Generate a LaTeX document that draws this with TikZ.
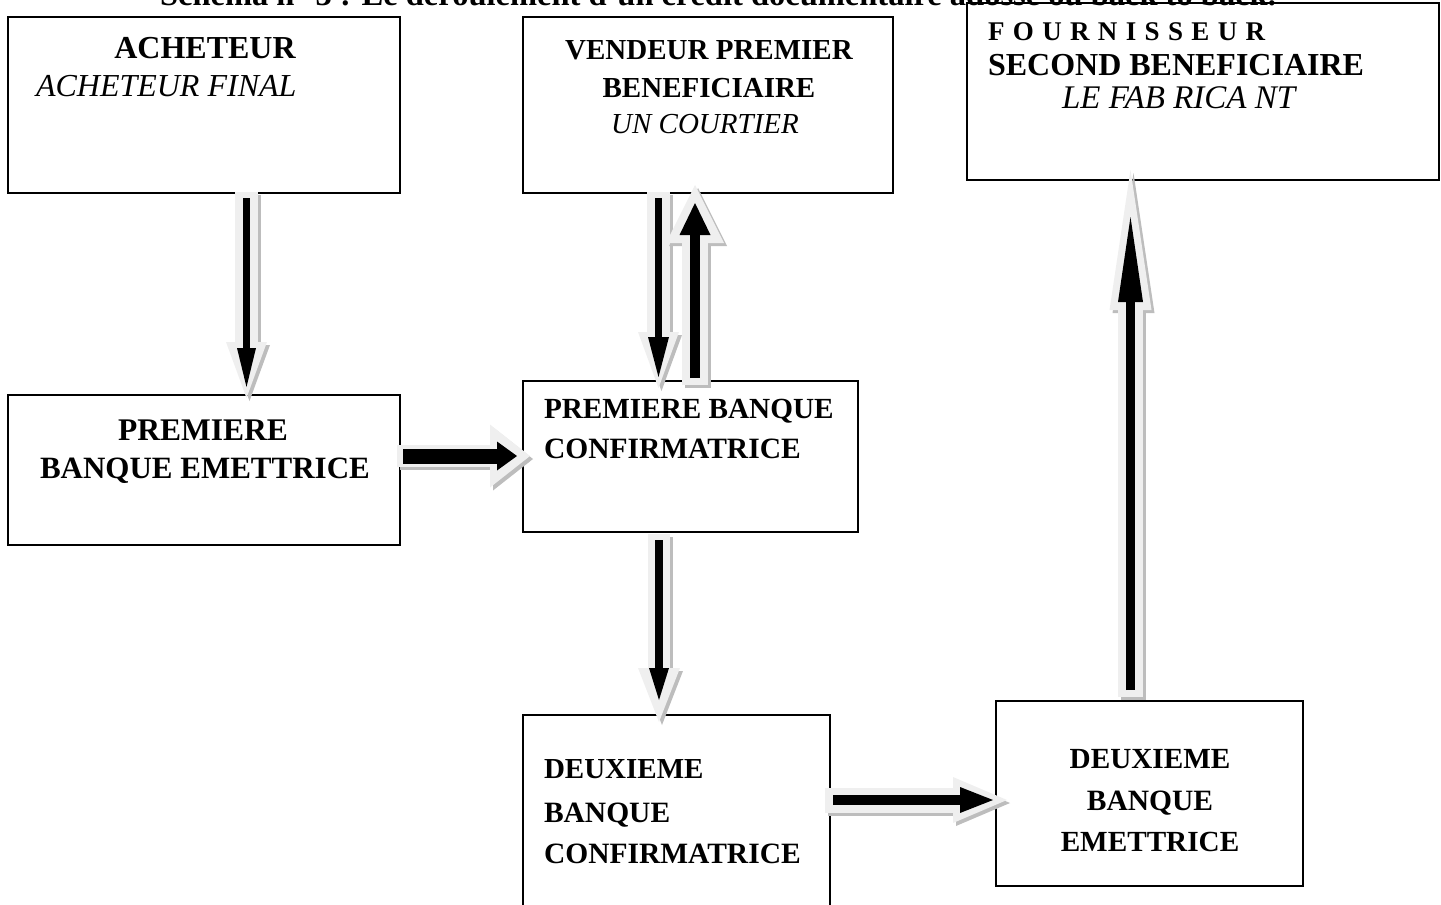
\documentclass[tikz,border=0pt]{standalone}
\usepackage{fontspec}
\setmainfont{Liberation Serif}
\usetikzlibrary{arrows.meta}
\definecolor{bodygray}{HTML}{EFEFEF}
\definecolor{shadowgray}{HTML}{BDBDBD}

\tikzset{
  box/.style={draw, line width=1.5pt, inner sep=0pt, outer sep=0pt, anchor=north west, fill=white},
  lbl/.style={inner sep=0pt, outer sep=0pt, font=\fontsize{29.5}{36}\selectfont\bfseries},
  ilbl/.style={inner sep=0pt, outer sep=0pt, font=\fontsize{29.5}{36}\selectfont\itshape},
  big/.style={font=\fontsize{#1}{36}\selectfont\bfseries},
  ibig/.style={font=\fontsize{#1}{36}\selectfont\itshape},
  % light body of a block arrow
  arrbody/.style n args={3}{draw=bodygray, line width=#1,
    -{Triangle[width=#2, length=#3, line width=0pt]}},
  % its drop shadow, down and to the right
  arrshadow/.style n args={3}{arrbody={#1}{#2}{#3}, draw=shadowgray,
    transform canvas={xshift=3pt, yshift=-3pt}},
  % black core arrow
  arrcore/.style n args={3}{draw=black, line width=#1,
    -{Triangle[width=#2, length=#3, line width=0pt]}},
}

\begin{document}
\begin{tikzpicture}[x=1pt, y=-1pt]
\useasboundingbox (0,0) rectangle (1441,905);
\clip (0,0) rectangle (1441,905);

% boxes
\node[box, minimum width=392pt, minimum height=176pt] (ach)  at (8,17) {};
\node[box, minimum width=370pt, minimum height=176pt] (ven)  at (523,17) {};
\node[box, minimum width=472pt, minimum height=177pt] (four) at (967,3) {};
\node[box, minimum width=392pt, minimum height=150pt] (pbe)  at (8,395) {};
\node[box, minimum width=335pt, minimum height=151pt] (pbc)  at (523,381) {};
\node[box, minimum width=307pt, minimum height=200pt] (dbc)  at (523,715) {};
\node[box, minimum width=307pt, minimum height=185pt] (dbe)  at (996,701) {};

% heading (partly cut by the top edge)
\node[lbl, big=32.5, anchor=base west] (title) at (160,5)
  {Schéma n° 3 : Le déroulement d'un crédit documentaire adossé ou back to back.};

% box texts
\node[lbl, big=32, anchor=base]        (t1)  at (205,58)  {ACHETEUR};
\node[ilbl, ibig=32, anchor=base west] (t2)  at (36,96)   {ACHETEUR FINAL};
\node[lbl, big=29, anchor=base]        (t3)  at (709,59)  {VENDEUR PREMIER};
\node[lbl, big=29, anchor=base]        (t4)  at (709,97)  {BENEFICIAIRE};
\node[ilbl, ibig=29, anchor=base]      (t5)  at (705,133) {UN COURTIER};
\node[lbl, anchor=base west, font=\fontsize{27}{32}\selectfont\bfseries\addfontfeature{LetterSpace=31}]
                                       (t6)  at (988,40)  {FOURNISSEUR};
\node[lbl, big=32, anchor=base west]   (t7)  at (988,75)  {SECOND BENEFICIAIRE};
\node[ilbl, ibig=33, anchor=base west] (t8)  at (1062,108) {LE FAB RICA NT};
\node[lbl, big=31.5, anchor=base]      (t9)  at (203,440) {PREMIERE};
\node[lbl, big=31, anchor=base west]   (t10) at (40,478)  {BANQUE EMETTRICE};
\node[lbl, big=29.2, anchor=base west] (t11) at (544,418) {PREMIERE BANQUE};
\node[lbl, anchor=base west]           (t12) at (544,458) {CONFIRMATRICE};
\node[lbl, big=29, anchor=base west]   (t13) at (544,778) {DEUXIEME};
\node[lbl, anchor=base west]           (t14) at (544,822) {BANQUE};
\node[lbl, anchor=base west]           (t15) at (544,863) {CONFIRMATRICE};
\node[lbl, big=29.2, anchor=base]      (t16) at (1150,768) {DEUXIEME};
\node[lbl, anchor=base]                (t17) at (1150,810) {BANQUE};
\node[lbl, big=29.2, anchor=base]      (t18) at (1150,851) {EMETTRICE};

% guide lines for the arrows
\coordinate (xa) at (246.5,0);
\coordinate (xb) at (658.5,0);
\coordinate (xc) at (695,0);
\coordinate (xd) at (659,0);
\coordinate (xe) at (1130.5,0);
\coordinate (ya) at (0,456);
\coordinate (yb) at (0,800);

% acheteur -> premiere banque emettrice
\draw[arrshadow={23pt}{41pt}{56pt}, shorten <=-1pt, shorten >=-3pt] (xa |- ach.south) -- (xa |- pbe.north);
\draw[arrbody={23pt}{41pt}{56pt},   shorten <=-1pt, shorten >=-3pt] (xa |- ach.south) -- (xa |- pbe.north);
\draw[arrcore={7pt}{19pt}{39pt},    shorten <=5pt,  shorten >=8pt]  (xa |- ach.south) -- (xa |- pbe.north);

% vendeur -> premiere banque confirmatrice
\draw[arrshadow={23pt}{41pt}{56pt}, shorten <=-1pt, shorten >=-7pt] (xb |- ven.south) -- (xb |- pbc.north);
\draw[arrbody={23pt}{41pt}{56pt},   shorten <=-1pt, shorten >=-7pt] (xb |- ven.south) -- (xb |- pbc.north);
\draw[arrcore={7pt}{21pt}{40pt},    shorten <=5pt,  shorten >=4pt]  (xb |- ven.south) -- (xb |- pbc.north);

% premiere banque confirmatrice -> vendeur
\draw[arrshadow={26pt}{58pt}{58pt}, shorten <=-4pt, shorten >=-8pt] (xc |- pbc.north) -- (xc |- ven.south);
\draw[arrbody={26pt}{58pt}{58pt},   shorten <=-4pt, shorten >=-8pt] (xc |- pbc.north) -- (xc |- ven.south);
\draw[arrcore={10pt}{31pt}{32pt},   shorten <=3pt,  shorten >=10pt] (xc |- pbc.north) -- (xc |- ven.south);

% premiere banque emettrice -> premiere banque confirmatrice
\draw[arrshadow={22pt}{63pt}{40pt}, shorten <=-3pt, shorten >=-7pt] (pbe.east |- ya) -- (pbc.west |- ya);
\draw[arrbody={22pt}{63pt}{40pt},   shorten <=-3pt, shorten >=-7pt] (pbe.east |- ya) -- (pbc.west |- ya);
\draw[arrcore={15pt}{29pt}{20pt},   shorten <=3pt,  shorten >=6pt]  (pbe.east |- ya) -- (pbc.west |- ya);

% premiere banque confirmatrice -> deuxieme banque confirmatrice
\draw[arrshadow={22pt}{42pt}{54pt}, shorten <=2pt,  shorten >=-7pt] (xd |- pbc.south) -- (xd |- dbc.north);
\draw[arrbody={22pt}{42pt}{54pt},   shorten <=2pt,  shorten >=-7pt] (xd |- pbc.south) -- (xd |- dbc.north);
\draw[arrcore={8pt}{20pt}{32pt},    shorten <=8pt,  shorten >=15pt] (xd |- pbc.south) -- (xd |- dbc.north);

% deuxieme banque confirmatrice -> deuxieme banque emettrice
\draw[arrshadow={25pt}{46pt}{54pt}, shorten <=-5pt, shorten >=-11pt] (dbc.east |- yb) -- (dbe.west |- yb);
\draw[arrbody={25pt}{46pt}{54pt},   shorten <=-5pt, shorten >=-11pt] (dbc.east |- yb) -- (dbe.west |- yb);
\draw[arrcore={10pt}{26pt}{33pt},   shorten <=3pt,  shorten >=3pt]   (dbc.east |- yb) -- (dbe.west |- yb);

% deuxieme banque emettrice -> fournisseur
\draw[arrshadow={25pt}{42pt}{140pt}, shorten <=4pt,  shorten >=-10pt] (xe |- dbe.north) -- (xe |- four.south);
\draw[arrbody={25pt}{42pt}{140pt},   shorten <=4pt,  shorten >=-10pt] (xe |- dbe.north) -- (xe |- four.south);
\draw[arrcore={9pt}{25pt}{85pt},     shorten <=11pt, shorten >=37pt]  (xe |- dbe.north) -- (xe |- four.south);
\end{tikzpicture}
\end{document}
